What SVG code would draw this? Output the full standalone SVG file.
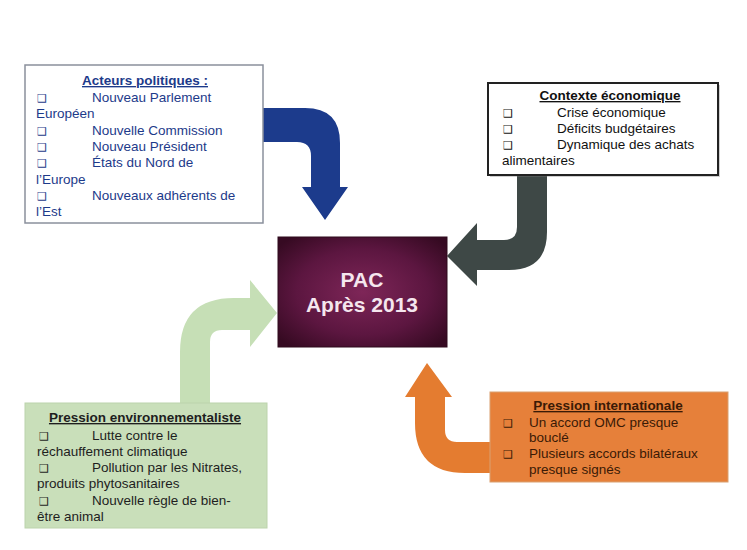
<svg xmlns="http://www.w3.org/2000/svg" width="747" height="550" viewBox="0 0 747 550">
<defs>
<radialGradient id="pacg" cx="50%" cy="50%" r="65%">
<stop offset="0" stop-color="#7e2658"/>
<stop offset="0.6" stop-color="#5c1640"/>
<stop offset="1" stop-color="#360a22"/>
</radialGradient>
<style>
text{font-family:"Liberation Sans",Arial,sans-serif;font-size:13.5px}
.t{font-weight:bold;text-decoration:underline;text-anchor:middle}
.b{font-family:"DejaVu Sans",sans-serif;font-size:11px}
.blue text{fill:#1d3a8a}
.blk text{fill:#111}
.grn text{fill:#1e1e1e}
.org text{fill:#3a1a06}
.pac{font-size:21px;font-weight:bold;fill:#f5e6ee;text-anchor:middle}
</style>
</defs>
<rect width="747" height="550" fill="#fff"/>
<g id="connectors">
<path d="M 262,108 L 305,108 Q 340,108 340,143 L 340,187 L 348,187 L 325,220 L 302,187 L 311,187 L 311,156 Q 311,142 297,142 L 262,142 Z" fill="#1c3b8c"/>
<path d="M 517,176 L 547,176 L 547,232 Q 547,270 509,270 L 477,270 L 477,286 L 447,256 L 477,223 L 477,240 L 504,240 Q 517,240 517,227 Z" fill="#3e4846"/>
<path d="M 180,404 L 180,352 Q 180,298 234,298 L 250,298 L 250,280 L 277,313 L 250,347 L 250,330 L 222,330 Q 210,330 210,342 L 210,404 Z" fill="#c6dfb6"/>
<path d="M 415,397 L 405,397 L 427,363 L 452,397 L 445,397 L 445,430 Q 445,442 457,442 L 492,442 L 492,473 L 465,473 Q 415,473 415,423 Z" fill="#e47c30"/>
</g>
<g id="acteurs" class="blue">
<rect x="25" y="65" width="238" height="158" fill="#fff" stroke="#8a909c" stroke-width="1.5"/>
<text class="t" x="145" y="85">Acteurs politiques :</text>
<text class="b" x="37" y="102">❑</text><text x="92" y="102">Nouveau Parlement</text>
<text x="36" y="118.3">Européen</text>
<text class="b" x="37" y="134.6">❑</text><text x="92" y="134.6">Nouvelle Commission</text>
<text class="b" x="37" y="150.9">❑</text><text x="92" y="150.9">Nouveau Président</text>
<text class="b" x="37" y="167.2">❑</text><text x="92" y="167.2">États du Nord de</text>
<text x="36" y="183.5">l’Europe</text>
<text class="b" x="37" y="199.8">❑</text><text x="92" y="199.8">Nouveaux adhérents de</text>
<text x="36" y="216.1">l’Est</text>
</g>
<g id="contexte" class="blk">
<rect x="490" y="85" width="230" height="92" fill="#777" opacity="0.35"/>
<rect x="488" y="83" width="230" height="92" fill="#fff" stroke="#222" stroke-width="2"/>
<text class="t" x="610" y="100">Contexte économique</text>
<text class="b" x="503" y="116.5">❑</text><text x="557" y="116.5">Crise économique</text>
<text class="b" x="503" y="132.5">❑</text><text x="557" y="132.5">Déficits budgétaires</text>
<text class="b" x="503" y="148.5">❑</text><text x="557" y="148.5">Dynamique des achats</text>
<text x="502" y="164.5">alimentaires</text>
</g>
<g id="pac">
<rect x="278" y="237" width="169" height="110" fill="url(#pacg)" stroke="#2e0a1c" stroke-width="1"/>
<text class="pac" x="362" y="287">PAC</text>
<text class="pac" x="362" y="312">Après 2013</text>
</g>
<g id="environnement" class="grn">
<rect x="25" y="403" width="242" height="125" fill="#c9dfba" stroke="#bcd3ac" stroke-width="1"/>
<text class="t" x="145" y="422">Pression environnementaliste</text>
<text class="b" x="39" y="439.5">❑</text><text x="92" y="439.5">Lutte contre le</text>
<text x="37" y="455.5">réchauffement climatique</text>
<text class="b" x="39" y="472">❑</text><text x="92" y="472">Pollution par les Nitrates,</text>
<text x="37" y="488">produits phytosanitaires</text>
<text class="b" x="39" y="505">❑</text><text x="92" y="505">Nouvelle règle de bien-</text>
<text x="37" y="521">être animal</text>
</g>
<g id="international" class="org">
<rect x="490" y="392" width="238" height="90" fill="#e6803a" stroke="#d9a070" stroke-width="1"/>
<text class="t" x="608" y="410">Pression internationale</text>
<text class="b" x="503" y="426.5">❑</text><text x="529" y="426.5">Un accord OMC presque</text>
<text x="529" y="442">bouclé</text>
<text class="b" x="503" y="458">❑</text><text x="529" y="458">Plusieurs accords bilatéraux</text>
<text x="529" y="474">presque signés</text>
</g>
</svg>
